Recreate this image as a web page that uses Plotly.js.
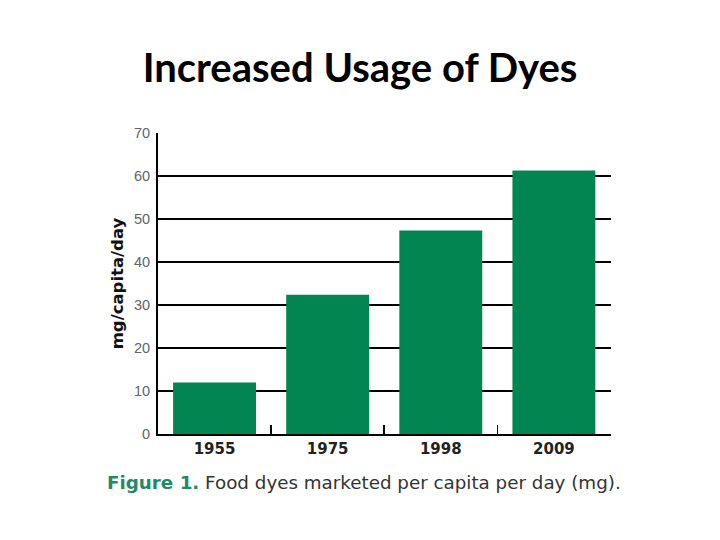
<!DOCTYPE html>
<html>
<head>
<meta charset="utf-8">
<script src="https://cdn.plot.ly/plotly-3.0.1.min.js"></script>
<style>html,body{margin:0;padding:0;background:#fff;}#chart{width:720px;height:540px;}</style>
</head>
<body>
<div id="chart"></div>
<script>
var years = ["1955", "1975", "1998", "2009"];
var dyeMg = [12.0, 32.4, 47.3, 61.3];
var yTicks = [0, 10, 20, 30, 40, 50, 60, 70];

var trace = {
  type: "bar",
  x: years,
  y: dyeMg,
  marker: {color: "#038552", line: {width: 0}},
  hoverinfo: "skip"
};

var layout = {
  width: 720, height: 540,
  margin: {l: 158, r: 109, t: 133, b: 106},
  paper_bgcolor: "#ffffff",
  plot_bgcolor: "#ffffff",
  showlegend: false,
  bargap: 0.267,
  title: {
    text: "<b>Increased Usage of Dyes</b>",
    font: {family: "Lato, 'Open Sans', sans-serif", size: 40, color: "#000000"},
    x: 0.5, xanchor: "center",
    y: 0.875, yanchor: "middle"
  },
  xaxis: {
    type: "category",
    range: [-0.5, 3.505],
    showline: true, linecolor: "#000000", linewidth: 2,
    showgrid: false,
    ticks: "inside", tickson: "boundaries", ticklen: 9, tickwidth: 1.5, tickcolor: "#000000",
    tickfont: {family: "'DejaVu Sans', sans-serif", size: 15, color: "#222222"},
    tickprefix: "<b>", ticksuffix: "</b>"
  },
  yaxis: {
    range: [0, 70],
    tickvals: yTicks,
    ticktext: yTicks.map(String),
    showline: true, linecolor: "#000000", linewidth: 2,
    showgrid: true, gridcolor: "#000000", gridwidth: 1.6,
    zeroline: false,
    ticks: "",
    ticklabelstandoff: 3,
    tickfont: {family: "'Liberation Sans', sans-serif", size: 14.5, color: "#5b6470"},
    title: {
      text: "<b>mg/capita/day</b>",
      font: {family: "'DejaVu Sans', sans-serif", size: 16.5, color: "#111111"},
      standoff: 6
    }
  },
  annotations: [{
    xref: "paper", yref: "paper",
    x: 0.455, y: -0.16, xanchor: "center", yanchor: "middle",
    showarrow: false,
    text: "<b><span style='color:#1f8a63'>Figure 1.</span></b> Food dyes marketed per capita per day (mg).",
    font: {family: "'DejaVu Sans', sans-serif", size: 18.3, color: "#333333"}
  }]
};

Plotly.newPlot("chart", [trace], layout, {displayModeBar: false, staticPlot: true});
</script>
</body>
</html>
